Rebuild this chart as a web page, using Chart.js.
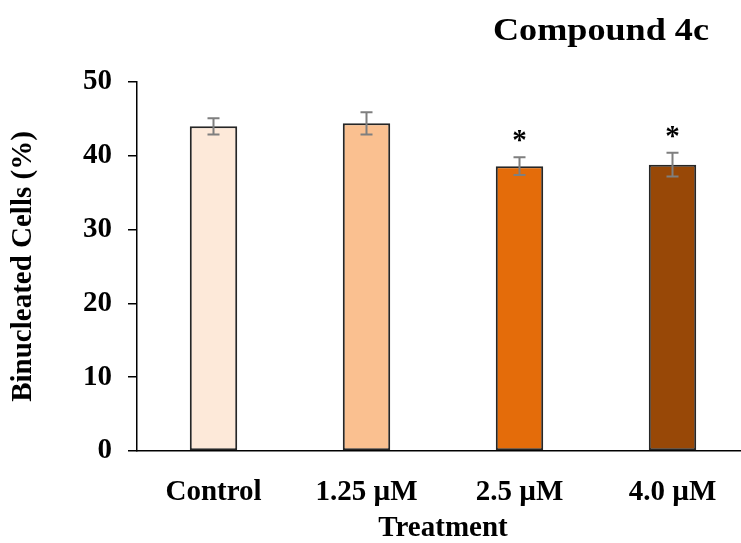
<!DOCTYPE html>
<html>
<head>
<meta charset="utf-8">
<script src="https://cdn.jsdelivr.net/npm/chart.js@4"></script>
<style>
html, body { margin: 0; padding: 0; background: #fff; overflow: hidden; width: 741px; height: 543px; }
#wrap { width: 752px; height: 543px; }
</style>
</head>
<body>
<div id="wrap"><canvas id="binucleatedChart" width="752" height="543"></canvas></div>
<script>
const chartTitle = "Compound 4c";
const treatments = ["Control", "1.25 µM", "2.5 µM", "4.0 µM"];
const binucleated = [44.0, 44.4, 38.6, 38.8];
const errors = [1.1, 1.5, 1.2, 1.6];
const significant = ["", "", "*", "*"];
const barColors = ["#FDE9D9", "#FAC090", "#E46C0A", "#984807"];
const yTicks = [0, 10, 20, 30, 40, 50];

const serif = (size, lineHeight) => ({
    family: "'Liberation Serif', 'Times New Roman', serif",
    size: size,
    weight: 'bold',
    lineHeight: lineHeight || 1.2
});

const annotations = {
    id: 'annotations',
    afterDatasetsDraw(chart) {
        const c = chart.ctx;
        const x = chart.scales.x;
        const y = chart.scales.y;
        c.save();
        c.strokeStyle = '#7F7F7F';
        c.lineWidth = 2;
        binucleated.forEach((v, i) => {
            const px = x.getPixelForValue(i);
            const top = y.getPixelForValue(v + errors[i]);
            const bottom = y.getPixelForValue(v - errors[i]);
            c.beginPath();
            c.moveTo(px, top); c.lineTo(px, bottom);
            c.moveTo(px - 6, top); c.lineTo(px + 6, top);
            c.moveTo(px - 6, bottom); c.lineTo(px + 6, bottom);
            c.stroke();
            if (significant[i]) {
                c.fillStyle = '#000';
                c.font = "bold 29px 'Liberation Serif', serif";
                c.textAlign = 'center';
                c.textBaseline = 'alphabetic';
                c.fillText(significant[i], px, top - 8);
            }
        });
        // title in the source is a slightly widened text box
        c.fillStyle = '#000';
        c.font = "bold 32px 'Liberation Serif', serif";
        c.textAlign = 'center';
        c.textBaseline = 'alphabetic';
        c.translate(601, 40);
        c.scale(1.13, 1);
        c.fillText(chartTitle, 0, 0);
        c.restore();
    }
};

const ctx = document.getElementById("binucleatedChart").getContext("2d");
new Chart(ctx, {
    type: 'bar',
    data: {
        labels: treatments,
        datasets: [{
            data: binucleated,
            backgroundColor: barColors,
            borderColor: '#262626',
            borderWidth: 2,
            borderSkipped: false,
            barPercentage: 0.31,
            categoryPercentage: 1
        }]
    },
    options: {
        responsive: false,
        animation: false,
        devicePixelRatio: 1,
        layout: { padding: { top: 82, right: 3, left: 0, bottom: 0 } },
        plugins: {
            legend: { display: false },
            tooltip: { enabled: false }
        },
        scales: {
            x: {
                grid: { display: false },
                border: { color: '#000', width: 1.5 },
                ticks: { color: '#000', font: serif(29), padding: 16, maxRotation: 0, autoSkip: false },
                title: { display: true, text: 'Treatment', color: '#000', font: serif(29, 1), padding: { top: 0, bottom: 0 } },
                afterFit: (s) => { s.height = 92; }
            },
            y: {
                min: 0,
                max: 50,
                afterBuildTicks: (s) => { s.ticks = yTicks.map(v => ({ value: v })); },
                grid: { drawOnChartArea: false, drawTicks: true, tickLength: 9, color: '#000', lineWidth: 1.5 },
                border: { color: '#000', width: 1.5 },
                ticks: { color: '#000', font: serif(29), padding: 16 },
                title: { display: true, text: 'Binucleated Cells (%)', color: '#000', font: serif(29), padding: { top: 6, bottom: 0 } },
                afterFit: (s) => { s.width = 137; }
            }
        }
    },
    plugins: [annotations]
});
</script>
</body>
</html>
